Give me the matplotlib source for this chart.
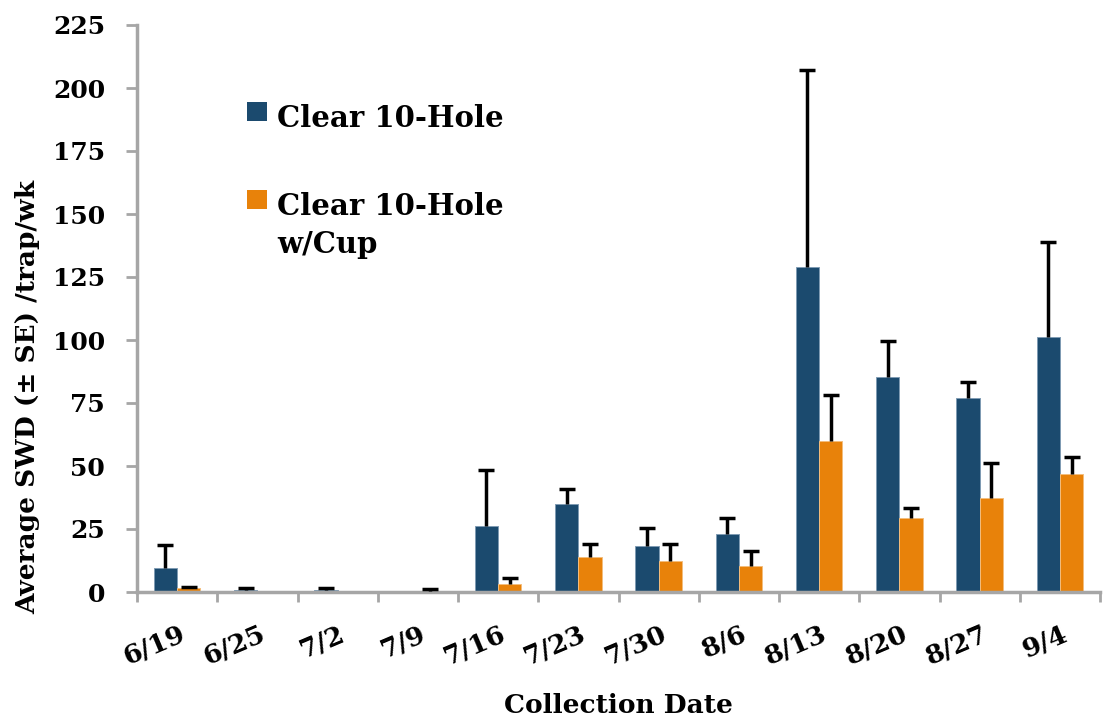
import numpy as np
import matplotlib.pyplot as plt
from matplotlib.patches import Rectangle

# === Données ===
dates = ["6/19", "6/25", "7/2", "7/9", "7/16", "7/23", "7/30",
         "8/6", "8/13", "8/20", "8/27", "9/4"]
clear = [9.5, 0.8, 0.8, 0, 26, 35, 18.3, 23, 129, 85.5, 77, 101]
clear_se = [9, 0.7, 0.7, 0, 22.5, 6, 7, 6.2, 78, 14, 6.5, 38]
cup = [1.5, 0, 0, 0.5, 3.2, 14, 12.3, 10.3, 60, 29.5, 37.5, 47]
cup_se = [0.6, 0, 0, 0.5, 2.3, 5, 6.7, 5.8, 18, 3.7, 13.5, 6.5]

blue = "#1B4A6E"
orange = "#E8820A"
grey = "#A6A6A6"

plt.rcParams['font.family'] = ['DejaVu Serif']
plt.rcParams['font.weight'] = 'bold'

W, H = 1106, 721
fig = plt.figure(figsize=(W / 100, H / 100), dpi=100)
ax = fig.add_axes([137 / W, 1 - 592 / H, 963 / W, 567 / H])

x = np.arange(len(dates))
w = 0.29


def bars_with_se(pos, vals, se, color, edge):
    vals = np.array(vals, dtype=float)
    se = np.array(se, dtype=float)
    ax.bar(pos, vals, w, color=color, edgecolor=edge, linewidth=0.7, zorder=2)
    m = se > 0
    ax.vlines(pos[m], vals[m], vals[m] + se[m], color="black", lw=2.5, zorder=3)
    ax.plot(pos[m], vals[m] + se[m], ls="none", marker="_", ms=12, mew=2.5,
            color="black", zorder=3)


bars_with_se(x - w / 2, clear, clear_se, blue, "#7F9BB3")
bars_with_se(x + w / 2, cup, cup_se, orange, "#F4BD7C")

ax.set_xlim(-0.5, len(dates) - 0.5)
ax.set_ylim(0, 225)
ax.set_yticks(np.arange(0, 226, 25))
ax.set_xticks(np.arange(-0.5, len(dates), 1))
ax.set_xticklabels([])
ax.set_xticks(x + 0.02, minor=True)
ax.set_xticklabels(dates, minor=True, rotation=23, fontsize=19,
                   fontweight='bold', ha='right', rotation_mode='anchor')
ax.tick_params(axis='x', which='minor', length=0, pad=21)
ax.tick_params(axis='x', which='major', length=7.5, width=2, color=grey)
ax.tick_params(axis='y', length=8, width=2, color=grey, labelsize=18, pad=15)

for s in ["top", "right"]:
    ax.spines[s].set_visible(False)
for s in ["left", "bottom"]:
    ax.spines[s].set_color(grey)
    ax.spines[s].set_linewidth(2.5)

ax.set_ylabel("Average SWD (± SE) /trap/wk", fontsize=19, fontweight='bold')
ax.yaxis.set_label_coords((40 - 137) / 963, (592 - 397) / 567)
ax.set_xlabel("Collection Date", fontsize=19, fontweight='bold', va='baseline')
ax.xaxis.set_label_coords(0.5, (592 - 713) / 567)

# légende façon Excel
legend_items = [(blue, ["Clear 10-Hole"], 102),
                (orange, ["Clear 10-Hole", "w/Cup"], 190)]
for col, lines, ytop in legend_items:
    fig.add_artist(Rectangle((247 / W, 1 - (ytop + 19) / H), 20 / W, 19 / H,
                             transform=fig.transFigure, facecolor=col,
                             edgecolor="none"))
    for i, line in enumerate(lines):
        fig.text(277 / W, 1 - (ytop + 25 + 38 * i) / H, line, fontsize=21,
                 fontweight='bold', va='baseline', ha='left')

fig.savefig("out.png", dpi=100)
